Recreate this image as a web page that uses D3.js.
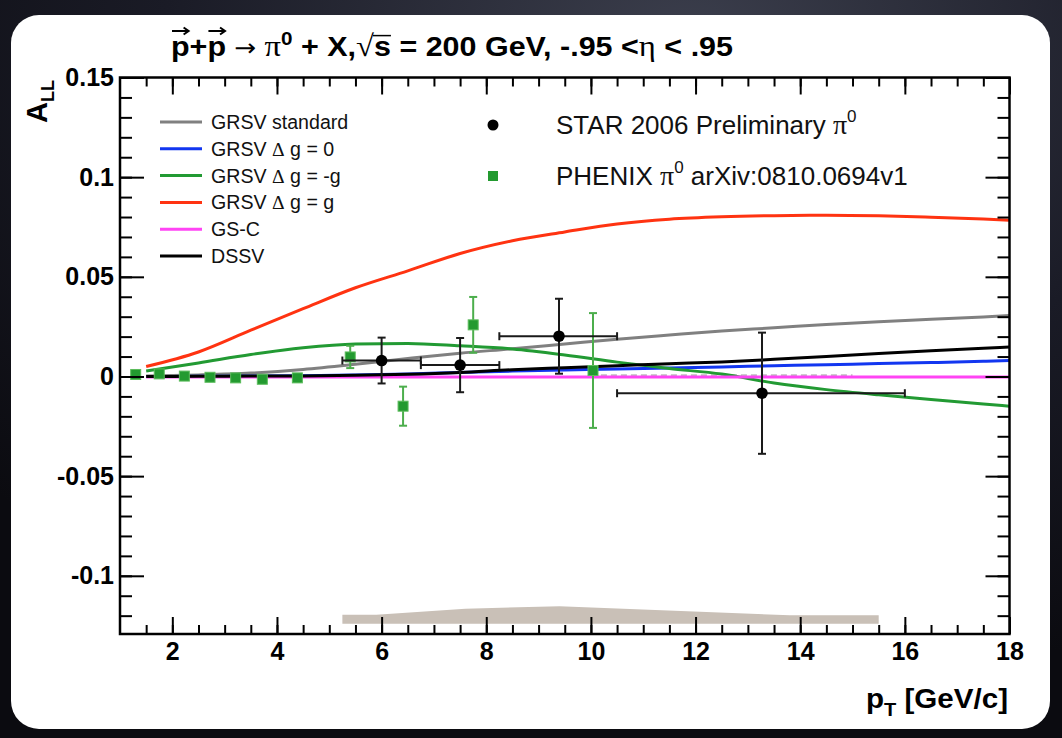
<!DOCTYPE html>
<html>
<head>
<meta charset="utf-8">
<script src="https://cdn.jsdelivr.net/npm/d3@7"></script>
<style>
  body { margin: 0; background: #101118; }
  svg { display: block; }
</style>
</head>
<body>
<svg id="chart" width="1062" height="738"></svg>
<script>
// ---- theory curves: A_LL vs pT ----
const ptGrid    = [1.5, 2.5, 3.5, 4.5, 5.5, 6.5, 7.5, 8.5, 9.5, 10.5, 11.5, 12.5, 13.5, 14.5, 15.5, 16.5, 17.5, 18];
const grsvStd   = [0.0003, 0.0008, 0.0017, 0.0035, 0.0061, 0.0090, 0.0117, 0.0139, 0.0163, 0.0187, 0.0208, 0.0228, 0.0244, 0.0261, 0.0275, 0.0287, 0.0299, 0.0306];
const grsvZero  = [0.0000, 0.0001, 0.0002, 0.0004, 0.0008, 0.0013, 0.0020, 0.0027, 0.0033, 0.0038, 0.0043, 0.0048, 0.0054, 0.0059, 0.0065, 0.0070, 0.0076, 0.0080];
const grsvMinG  = [0.0028, 0.0068, 0.0110, 0.0144, 0.0163, 0.0166, 0.0154, 0.0138, 0.0108, 0.0072, 0.0040, 0.0012, -0.0033, -0.0066, -0.0092, -0.0115, -0.0138, -0.0149];
const grsvMaxG  = [0.0050, 0.0123, 0.0232, 0.0340, 0.0445, 0.0530, 0.0617, 0.0681, 0.0725, 0.0765, 0.0789, 0.0801, 0.0807, 0.0809, 0.0806, 0.0799, 0.0790, 0.0784];
const gsC       = [-0.0002, -0.0002, -0.0002, -0.0002, -0.0002, -0.0002, -0.0002, -0.0002, -0.0002, -0.0002, -0.0002, -0.0002, -0.0002, -0.0002, -0.0002, -0.0002, -0.0002, -0.0002];
const dssv      = [0.0000, 0.0001, 0.0002, 0.0003, 0.0006, 0.0011, 0.0020, 0.0034, 0.0044, 0.0054, 0.0064, 0.0073, 0.0086, 0.0100, 0.0115, 0.0129, 0.0142, 0.0148];

const curveNames  = ["GRSV standard", "GRSV \u0394 g = 0", "GRSV \u0394 g = -g", "GRSV \u0394 g = g", "GS-C", "DSSV"];
const curveColors = ["#808080", "#1236f0", "#229a33", "#ff3311", "#ff44f4", "#000000"];
const curveValues = [grsvStd, grsvZero, grsvMinG, grsvMaxG, gsC, dssv];

// ---- STAR 2006 preliminary pi0 ----
const starPt   = [6.0, 7.5, 9.39, 13.27];
const starLo   = [5.25, 6.75, 8.25, 10.5];
const starHi   = [6.75, 8.25, 10.5, 16.0];
const starALL  = [0.0080, 0.0057, 0.0202, -0.0084];
const starErr  = [0.0115, 0.0136, 0.0188, 0.0304];

// ---- PHENIX pi0 ----
const phenixPt  = [1.30, 1.75, 2.23, 2.72, 3.21, 3.72, 4.39, 5.40, 6.41, 7.75, 10.04];
const phenixALL = [0.0010, 0.0013, 0.0002, -0.0004, -0.0007, -0.0014, -0.0007, 0.0098, -0.0149, 0.0259, 0.0030];
const phenixErr = [0.0004, 0.0005, 0.0006, 0.0008, 0.0010, 0.0013, 0.0018, 0.0056, 0.0098, 0.0140, 0.0288];

// ---- STAR systematic uncertainty band ----
const sysPt   = [5.25, 5.9, 7.6, 9.4, 13.8, 15.5];
const sysErr  = [0.0045, 0.0045, 0.0075, 0.0087, 0.0042, 0.0042];
const sysBase = -0.124;

// ---- axis ticks ----
const xMajor = [2, 4, 6, 8, 10, 12, 14, 16, 18];
const xMinor = d3.range(1.5, 18.01, 0.5);
const yMajor = [-0.1, -0.05, 0, 0.05, 0.1, 0.15];
const yTickLabels = ["-0.1", "-0.05", "0", "0.05", "0.1", "0.15"];
const yMinor = d3.range(-12, 16, 1).map(v => v / 100);
const zeroLine = [10, 15];

const svg = d3.select("#chart");
const W = 1062, H = 738;
const sans = "'Liberation Sans', Arial, Helvetica, sans-serif";
const serif = "'Liberation Serif', 'Times New Roman', serif";

// background and rounded panel
const defs = svg.append("defs");
const bg = defs.append("radialGradient").attr("id", "bgGrad")
  .attr("cx", "65%").attr("cy", "5%").attr("r", "90%");
bg.append("stop").attr("offset", "0%").attr("stop-color", "#3b3e4c");
bg.append("stop").attr("offset", "55%").attr("stop-color", "#1a1b26");
bg.append("stop").attr("offset", "100%").attr("stop-color", "#0b0b10");
svg.append("rect").attr("width", W).attr("height", H).attr("fill", "url(#bgGrad)");
svg.append("rect").attr("x", 11).attr("y", 15).attr("width", 1039).attr("height", 714)
  .attr("rx", 28).attr("fill", "#ffffff");

const x = d3.scaleLinear().domain([1, 18]).range([120, 1009.5]);
const y = d3.scaleLinear().domain([-0.1292, 0.15]).range([634, 77.5]);

const plot = svg.append("g");

// clip for curves
defs.append("clipPath").attr("id", "plotClip").append("rect")
  .attr("x", x(1)).attr("y", y(0.15)).attr("width", x(18) - x(1)).attr("height", y(-0.1292) - y(0.15));

// systematic band
plot.append("path")
  .datum(sysPt.map((p, i) => [p, sysErr[i]]))
  .attr("fill", "#c9c0b7")
  .attr("d", d3.area().x(d => x(d[0])).y0(y(sysBase)).y1(d => y(sysBase + d[1])));

// dashed zero reference
plot.append("line")
  .attr("x1", x(zeroLine[0])).attr("x2", x(zeroLine[1]))
  .attr("y1", y(0.0006)).attr("y2", y(0.0006))
  .attr("stroke", "#bdbdbd").attr("stroke-width", 2).attr("stroke-dasharray", "6,4");

// theory curves
const lineGen = d3.line().x(d => x(d[0])).y(d => y(d[1])).curve(d3.curveMonotoneX);
const curvesG = plot.append("g").attr("clip-path", "url(#plotClip)");
curveValues.forEach((vals, k) => {
  curvesG.append("path")
    .datum(ptGrid.map((p, i) => [p, vals[i]]))
    .attr("fill", "none")
    .attr("stroke", curveColors[k])
    .attr("stroke-width", 3)
    .attr("d", lineGen);
});

// PHENIX points
const phG = plot.append("g");
phenixPt.forEach((p, i) => {
  const cx = x(p), v = phenixALL[i], e = phenixErr[i];
  phG.append("line").attr("x1", cx).attr("x2", cx).attr("y1", y(v - e)).attr("y2", y(v + e))
    .attr("stroke", "#4cae4c").attr("stroke-width", 2);
  [v - e, v + e].forEach(t => phG.append("line")
    .attr("x1", cx - 4).attr("x2", cx + 4).attr("y1", y(t)).attr("y2", y(t))
    .attr("stroke", "#4cae4c").attr("stroke-width", 2));
  phG.append("rect").attr("x", cx - 5).attr("y", y(v) - 5).attr("width", 10).attr("height", 10)
    .attr("fill", "#239a30").attr("stroke", "#5cbc5c").attr("stroke-width", 1);
});

// STAR points
const stG = plot.append("g");
starPt.forEach((p, i) => {
  const cx = x(p), cy = y(starALL[i]), v = starALL[i], e = starErr[i];
  const col = "#1a1a1a";
  stG.append("line").attr("x1", x(starLo[i])).attr("x2", x(starHi[i])).attr("y1", cy).attr("y2", cy)
    .attr("stroke", col).attr("stroke-width", 2);
  [starLo[i], starHi[i]].forEach(t => stG.append("line")
    .attr("x1", x(t)).attr("x2", x(t)).attr("y1", cy - 4).attr("y2", cy + 4)
    .attr("stroke", col).attr("stroke-width", 2));
  stG.append("line").attr("x1", cx).attr("x2", cx).attr("y1", y(v - e)).attr("y2", y(v + e))
    .attr("stroke", col).attr("stroke-width", 2);
  [v - e, v + e].forEach(t => stG.append("line")
    .attr("x1", cx - 4).attr("x2", cx + 4).attr("y1", y(t)).attr("y2", y(t))
    .attr("stroke", col).attr("stroke-width", 2));
  stG.append("circle").attr("cx", cx).attr("cy", cy).attr("r", 5.8).attr("fill", "#000");
});

// axes (ROOT style: ticks point inward on all four sides)
function styleAxis(g) {
  g.select(".domain").remove();
  g.selectAll(".tick line").attr("stroke", "#000").attr("stroke-width", 2);
  g.selectAll(".tick text").attr("fill", "#000")
    .style("font-family", sans).style("font-weight", "bold").style("font-size", "25px");
}
const axG = svg.append("g");
axG.append("g").attr("transform", `translate(0,${y(-0.1292)})`)
  .call(d3.axisBottom(x).tickValues(xMajor).tickSizeInner(-17).tickSizeOuter(0).tickPadding(8).tickFormat(d3.format("d")))
  .call(styleAxis);
axG.append("g").attr("transform", `translate(0,${y(-0.1292)})`)
  .call(d3.axisBottom(x).tickValues(xMinor).tickSizeInner(-9).tickSizeOuter(0).tickFormat(""))
  .call(styleAxis);
axG.append("g").attr("transform", `translate(0,${y(0.15)})`)
  .call(d3.axisTop(x).tickValues(xMajor).tickSizeInner(-17).tickSizeOuter(0).tickFormat(""))
  .call(styleAxis);
axG.append("g").attr("transform", `translate(0,${y(0.15)})`)
  .call(d3.axisTop(x).tickValues(xMinor).tickSizeInner(-9).tickSizeOuter(0).tickFormat(""))
  .call(styleAxis);
axG.append("g").attr("transform", `translate(${x(1)},0)`)
  .call(d3.axisLeft(y).tickValues(yMajor).tickSizeInner(-24).tickSizeOuter(0).tickPadding(6)
    .tickFormat((d, i) => yTickLabels[i]))
  .call(styleAxis);
axG.append("g").attr("transform", `translate(${x(1)},0)`)
  .call(d3.axisLeft(y).tickValues(yMinor).tickSizeInner(-12).tickSizeOuter(0).tickFormat(""))
  .call(styleAxis);
axG.append("g").attr("transform", `translate(${x(18)},0)`)
  .call(d3.axisRight(y).tickValues(yMajor).tickSizeInner(-24).tickSizeOuter(0).tickFormat(""))
  .call(styleAxis);
axG.append("g").attr("transform", `translate(${x(18)},0)`)
  .call(d3.axisRight(y).tickValues(yMinor).tickSizeInner(-12).tickSizeOuter(0).tickFormat(""))
  .call(styleAxis);
axG.append("rect").attr("x", x(1)).attr("y", y(0.15))
  .attr("width", x(18) - x(1)).attr("height", y(-0.1292) - y(0.15))
  .attr("fill", "none").attr("stroke", "#000").attr("stroke-width", 2.5);

// axis titles
const yt = svg.append("text").attr("transform", "translate(47,123) rotate(-90)")
  .style("font-family", sans).style("font-weight", "bold").attr("fill", "#000");
yt.append("tspan").style("font-size", "29px").text("A");
yt.append("tspan").style("font-size", "18px").attr("dy", 7).text("LL");

const xt = svg.append("text").attr("x", 1008).attr("y", 708).attr("text-anchor", "end")
  .attr("textLength", 142).attr("lengthAdjust", "spacingAndGlyphs")
  .style("font-family", sans).style("font-weight", "bold").style("font-size", "28px").attr("fill", "#000");
xt.append("tspan").text("p");
xt.append("tspan").style("font-size", "19px").attr("dy", 8).text("T");
xt.append("tspan").attr("dy", -8).text(" [GeV/c]");

// legend: theory curves
const legRow = d3.scaleLinear().domain([0, 5]).range([122, 256]);
curveNames.forEach((name, k) => {
  const ly = legRow(k);
  svg.append("line").attr("x1", 160).attr("x2", 202).attr("y1", ly).attr("y2", ly)
    .attr("stroke", curveColors[k]).attr("stroke-width", 3);
  const t = svg.append("text").attr("x", 211).attr("y", ly + 7)
    .style("font-family", sans).style("font-size", "19.6px").attr("fill", "#111");
  const m = name.split("\u0394");
  t.append("tspan").text(m[0]);
  if (m.length > 1) {
    t.append("tspan").style("font-family", serif).text("\u0394");
    t.append("tspan").text(m[1]);
  }
});

// legend: data sets
svg.append("circle").attr("cx", 493).attr("cy", 125).attr("r", 5.5).attr("fill", "#000");
svg.append("rect").attr("x", 488).attr("y", 171).attr("width", 10).attr("height", 10).attr("fill", "#239a30");
const l1 = svg.append("text").attr("x", 556).attr("y", 134)
  .style("font-family", sans).style("font-size", "26px").attr("fill", "#111");
l1.append("tspan").text("STAR 2006 Preliminary ");
l1.append("tspan").style("font-family", serif).style("font-size", "28px").text("\u03c0");
l1.append("tspan").style("font-size", "17px").attr("dy", -12).text("0");
const l2 = svg.append("text").attr("x", 556).attr("y", 185)
  .style("font-family", sans).style("font-size", "26px").attr("fill", "#111");
l2.append("tspan").text("PHENIX ");
l2.append("tspan").style("font-family", serif).style("font-size", "28px").text("\u03c0");
l2.append("tspan").style("font-size", "17px").attr("dy", -12).text("0");
l2.append("tspan").attr("dy", 12).text(" arXiv:0810.0694v1");

// title
const title = svg.append("text").attr("x", 452).attr("y", 56).attr("text-anchor", "middle")
  .attr("textLength", 562).attr("lengthAdjust", "spacingAndGlyphs")
  .style("font-family", sans).style("font-weight", "bold").style("font-size", "28px").attr("fill", "#000");
const vecs = [];
vecs.push(title.append("tspan").text("p"));
title.append("tspan").text("+");
vecs.push(title.append("tspan").text("p"));
title.append("tspan").style("font-family", "'DejaVu Sans', sans-serif").style("font-weight", "normal").style("font-size", "24px").text(" \u2192 ");
title.append("tspan").style("font-family", serif).style("font-weight", "normal").style("font-size", "30px").text("\u03c0");
title.append("tspan").style("font-size", "19px").attr("dy", -11).text("0");
title.append("tspan").attr("dy", 11).text(" + X,");
const rootSign = title.append("tspan").style("font-family", serif).style("font-weight", "normal").style("font-size", "30px").text("\u221a");
const radicand = title.append("tspan").text("s");
title.append("tspan").text(" = 200 GeV, -.95 <");
title.append("tspan").style("font-family", serif).style("font-weight", "normal").style("font-size", "30px").text("\u03b7");
title.append("tspan").text(" < .95");

// arrows over the proton symbols and the bar of the square root
vecs.forEach(ts => {
  const r = ts.node().getExtentOfChar(0);
  const x0 = r.x + 1, x1 = r.x + r.width - 1, ay = 31;
  svg.append("path")
    .attr("d", `M${x0},${ay}L${x1},${ay}M${x1 - 5},${ay - 3.5}L${x1},${ay}L${x1 - 5},${ay + 3.5}`)
    .attr("fill", "none").attr("stroke", "#000").attr("stroke-width", 2);
});
{
  const rr = rootSign.node().getExtentOfChar(0);
  const rs = radicand.node().getExtentOfChar(0);
  const by = rr.y + rr.height * 0.2;
  svg.append("line").attr("x1", rr.x + rr.width - 1).attr("x2", rs.x + rs.width)
    .attr("y1", by).attr("y2", by).attr("stroke", "#000").attr("stroke-width", 1.5);
}
</script>
</body>
</html>
